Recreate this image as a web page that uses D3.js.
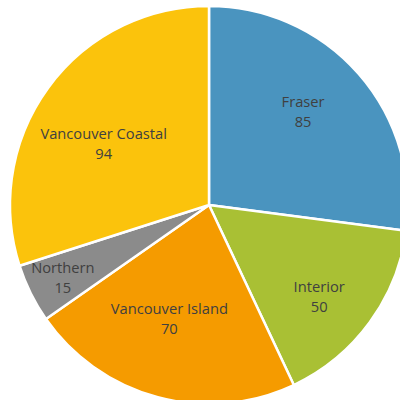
<!DOCTYPE html>
<html><head><meta charset="utf-8">
<script src="https://cdn.jsdelivr.net/npm/d3@7"></script>
<style>html,body{margin:0;padding:0;background:#fff;overflow:hidden}</style>
</head><body>
<svg id="c" width="400" height="400"></svg>
<script>
const categories = ["Fraser", "Interior", "Vancouver Island", "Northern", "Vancouver Coastal"];
const values = [85, 50, 70, 15, 94];
const colors = ["#4a94bf", "#a9c034", "#f59b00", "#8b8b8b", "#fbc30c"];
// label placement (layout only): radius and angular nudge from slice middle
const labelRadii = [133, 143, 120, 163, 122];
const labelAngleNudge = [-3.7, 3.5, 4.4, 0.1, -5.8];

const svg = d3.select("#c");
const cx = 209, cy = 205, R = 199;
const g = svg.append("g").attr("transform", `translate(${cx},${cy})`);
const pie = d3.pie().sort(null).value(d => d.v);
const data = pie(categories.map((c, i) => ({c, v: values[i], i})));
const arc = d3.arc().innerRadius(0).outerRadius(R);
g.selectAll("path").data(data).join("path")
  .attr("d", arc).attr("fill", d => colors[d.data.i])
  .attr("stroke", "#fff").attr("stroke-width", 2.5).attr("stroke-linejoin", "round");
const lab = g.selectAll("text").data(data).join("text")
  .attr("transform", d => {
    const r = labelRadii[d.data.i];
    const a = (d.startAngle + d.endAngle) / 2 + labelAngleNudge[d.data.i] * Math.PI / 180;
    return `translate(${r * Math.sin(a)},${-r * Math.cos(a)})`;
  })
  .attr("text-anchor", "middle")
  .attr("font-family", "'Open Sans', sans-serif").attr("font-size", 14.7).attr("fill", "#404040");
lab.append("tspan").attr("x", 0).attr("y", -4).text(d => d.data.c);
lab.append("tspan").attr("x", 0).attr("y", 16).text(d => d.data.v);
</script>
</body></html>
